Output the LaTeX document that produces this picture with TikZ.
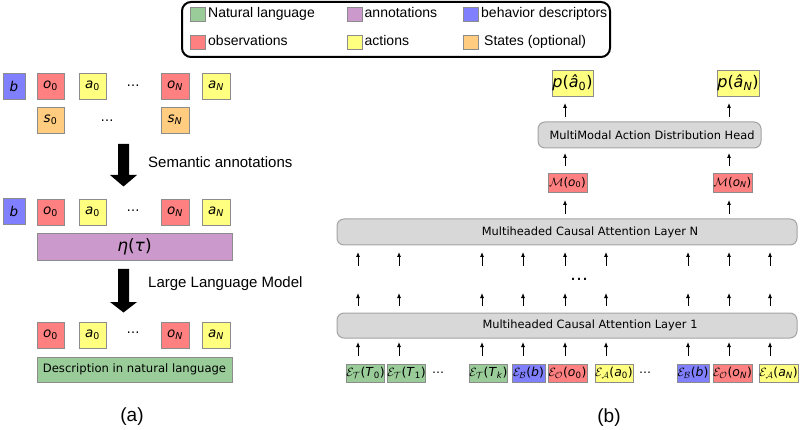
\documentclass[tikz,border=0pt]{standalone}
\usepackage{fontspec}
\setmainfont{Liberation Sans}
\newfontfamily\dv{DejaVu Sans}
\usetikzlibrary{arrows.meta}
\definecolor{cgreen}{HTML}{99CC99}
\definecolor{cpurple}{HTML}{CC99CC}
\definecolor{cblue}{HTML}{8080FF}
\definecolor{cred}{HTML}{FF8080}
\definecolor{cyellow}{HTML}{FFFF80}
\definecolor{corange}{HTML}{FFCC80}
\definecolor{cgray}{HTML}{D8D8D8}
\definecolor{cedge}{HTML}{8C8C8C}
\newcommand\bx[7]{\node[#2, minimum width={(#5-#3)*1pt}, minimum height={(#6-#4)*1pt}] (#1) at ({(#3+#5)/2},{(#4+#6)/2}) {#7};}
\newcommand\uar[4]{\coordinate (#4-b) at (#1,#2); \coordinate (#4-t) at (#1,#3); \draw[uparr] (#4-b) -- (#4-t);}
\newcommand\fs[1]{\fontsize{#1}{#1}\selectfont}
\newcommand\vi[1]{\textit{#1}}
\tikzset{
  tok/.style={draw=cedge, line width=0.9pt, inner sep=0pt, font=\dv\fs{13.5}},
  sml/.style={draw=cedge, line width=0.9pt, inner sep=0pt, font=\dv\fs{12.4}},
  sw/.style={draw=cedge, line width=0.8pt, inner sep=0pt},
  leg/.style={inner sep=0pt, anchor=west, font=\fs{14}, text height=10pt, text depth=3pt},
  lbl/.style={inner sep=0pt, anchor=west, font=\fs{15}, text height=10.5pt, text depth=3pt},
  layer/.style={draw=cedge!80, line width=1pt, fill=cgray, rounded corners=7pt, inner sep=0pt, font=\dv\fs{11.4}},
  uparr/.style={line width=0.8pt, -{Latex[length=5pt,width=4pt]}},
  bigarr/.style={fill=black},
  dotsl/.style={inner sep=0pt, font=\dv\fs{13}}
}
\begin{document}
\begin{tikzpicture}[x=1pt,y=-1pt]
\useasboundingbox (0,0) rectangle (800,430);
% legend
\node[draw=black, line width=2pt, rounded corners=9pt, minimum width=428pt, minimum height=55pt] (legend) at (396,29.5) {};
\bx{sw1}{sw, fill=cgreen}{190}{7.5}{205}{21.5}{}
\bx{sw2}{sw, fill=cpurple}{347}{7.5}{362}{21.5}{}
\bx{sw3}{sw, fill=cblue}{463}{7.5}{478}{21.5}{}
\bx{sw4}{sw, fill=cred}{190}{35}{205}{49}{}
\bx{sw5}{sw, fill=cyellow}{347}{35}{362}{49}{}
\bx{sw6}{sw, fill=corange}{463}{35}{478}{49}{}
\node[leg] (l1) at (208,14.5) {Natural language};
\node[leg] (l2) at (364.5,14.5) {annotations};
\node[leg] (l3) at (481,14.5) {behavior descriptors};
\node[leg] (l4) at (208,42) {observations};
\node[leg] (l5) at (364.5,42) {actions};
\node[leg] (l6) at (484,42) {States (optional)};
% ---- panel (a)
\bx{b1}{tok, fill=cblue}{3}{73}{25}{99}{\vi{b}}
\bx{o01}{tok, fill=cred}{37}{73}{64}{99}{\vi{o}\textsubscript{0}}
\bx{a01}{tok, fill=cyellow}{79}{73}{106}{99}{\vi{a}\textsubscript{0}}
\node[dotsl] (d1) at (133,86) {…};
\bx{oN1}{tok, fill=cred}{161}{73}{189}{99}{\vi{o}\textsubscript{\vi{N}}}
\bx{aN1}{tok, fill=cyellow}{202}{73}{230}{99}{\vi{a}\textsubscript{\vi{N}}}
\bx{s0}{tok, fill=corange}{37}{107}{64}{133}{\vi{s}\textsubscript{0}}
\node[dotsl] (d2) at (107,121) {…};
\bx{sN}{tok, fill=corange}{161}{107}{189}{133}{\vi{s}\textsubscript{\vi{N}}}
\fill[bigarr] (118,144) -- (129,144) -- (129,175) -- (137,175) -- (123.5,186.5) -- (110,175) -- (118,175) -- cycle;
\node[lbl] (sem) at (148,164) {Semantic annotations};
\bx{b2}{tok, fill=cblue}{3}{198}{25}{224}{\vi{b}}
\bx{o02}{tok, fill=cred}{37}{199}{64}{225}{\vi{o}\textsubscript{0}}
\bx{a02}{tok, fill=cyellow}{79}{199}{106}{225}{\vi{a}\textsubscript{0}}
\node[dotsl] (d3) at (133,211) {…};
\bx{oN2}{tok, fill=cred}{161}{199}{189}{225}{\vi{o}\textsubscript{\vi{N}}}
\bx{aN2}{tok, fill=cyellow}{202}{199}{230}{225}{\vi{a}\textsubscript{\vi{N}}}
\bx{eta}{tok, fill=cpurple, font=\dv\fs{17}}{37}{233}{232}{260}{\vi{η}(\vi{τ})}
\fill[bigarr] (118,269) -- (129,269) -- (129,302) -- (137,302) -- (123.5,312.5) -- (110,302) -- (118,302) -- cycle;
\node[lbl] (llm) at (148,284) {Large Language Model};
\bx{o03}{tok, fill=cred}{37}{322}{64}{348}{\vi{o}\textsubscript{0}}
\bx{a03}{tok, fill=cyellow}{79}{322}{106}{348}{\vi{a}\textsubscript{0}}
\node[dotsl] (d4) at (133,333) {…};
\bx{oN3}{tok, fill=cred}{161}{322}{189}{348}{\vi{o}\textsubscript{\vi{N}}}
\bx{aN3}{tok, fill=cyellow}{202}{322}{230}{348}{\vi{a}\textsubscript{\vi{N}}}
\bx{desc}{tok, fill=cgreen, font=\dv\fs{11.6}}{37}{357}{232}{382}{Description in natural language}
\node[inner sep=0pt, font=\fs{19}] (capa) at (132,417) {(a)};
% ---- panel (b)
\bx{pa0}{tok, fill=cyellow, font=\dv\fs{16}}{552}{70}{593}{96}{\vi{p}(\vi{â}\textsubscript{0})}
\bx{paN}{tok, fill=cyellow, font=\dv\fs{16}}{717}{70}{759}{96}{\vi{p}(\vi{â}\textsubscript{\vi{N}})}
\uar{565}{117}{103}{h1}
\uar{729}{117}{103}{h2}
\bx{head}{layer}{538}{122}{761}{148}{\hspace*{5pt}MultiModal Action Distribution Head}
\uar{565}{166}{153}{m1}
\uar{729}{166}{153}{m2}
\bx{M0}{sml, fill=cred, font=\dv\fs{12}}{548}{173}{587}{192}{$\mathcal{M}$(\vi{o}\textsubscript{0})}
\bx{MN}{sml, fill=cred, font=\dv\fs{12}}{713}{173}{752}{192}{$\mathcal{M}$(\vi{o}\textsubscript{\vi{N}})}
\uar{565}{214}{200}{n1}
\uar{729}{214}{200}{n2}
\bx{layN}{layer}{337}{219}{797}{245}{\hspace*{46pt}Multiheaded Causal Attention Layer N}
\foreach \x [count=\i] in {358,399,482,523,565,606,688,729,770} {
  \uar{\x}{266}{252}{ra\i}
  \uar{\x}{306}{293}{rb\i}
  \uar{\x}{356}{342}{rc\i}
}
\node[inner sep=0pt, font=\dv\fs{18}] (dmid) at (579,279) {…};
\bx{lay1}{layer}{337}{313}{797}{338}{\hspace*{46pt}Multiheaded Causal Attention Layer 1}
\bx{eT0}{sml, fill=cgreen}{347}{364}{384}{382}{$\mathcal{E}_{\mathcal{T}}$(\vi{T}\textsubscript{0})}
\bx{eT1}{sml, fill=cgreen}{389}{364}{424}{382}{$\mathcal{E}_{\mathcal{T}}$(\vi{T}\textsubscript{1})}
\node[inner sep=0pt, font=\dv\fs{12}] (d5) at (438,373) {…};
\bx{eTk}{sml, fill=cgreen}{471}{364}{506}{382}{$\mathcal{E}_{\mathcal{T}}$(\vi{T}\textsubscript{\vi{k}})}
\bx{eB0}{sml, fill=cblue}{512}{364}{545}{382}{$\mathcal{E}_{\mathcal{B}}$(\vi{b})}
\bx{eO0}{sml, fill=cred}{548}{364}{587}{382}{$\mathcal{E}_{\mathcal{O}}$(\vi{o}\textsubscript{0})}
\bx{eA0}{sml, fill=cyellow}{595}{364}{633}{382}{$\mathcal{E}_{\mathcal{A}}$(\vi{a}\textsubscript{0})}
\node[inner sep=0pt, font=\dv\fs{12}] (d6) at (645,373) {…};
\bx{eBN}{sml, fill=cblue}{677}{364}{709}{382}{$\mathcal{E}_{\mathcal{B}}$(\vi{b})}
\bx{eON}{sml, fill=cred}{713}{364}{752}{382}{$\mathcal{E}_{\mathcal{O}}$(\vi{o}\textsubscript{\vi{N}})}
\bx{eAN}{sml, fill=cyellow}{759}{364}{798}{382}{$\mathcal{E}_{\mathcal{A}}$(\vi{a}\textsubscript{\vi{N}})}
\node[inner sep=0pt, font=\fs{19}] (capb) at (609,418) {(b)};
\end{tikzpicture}
\end{document}
